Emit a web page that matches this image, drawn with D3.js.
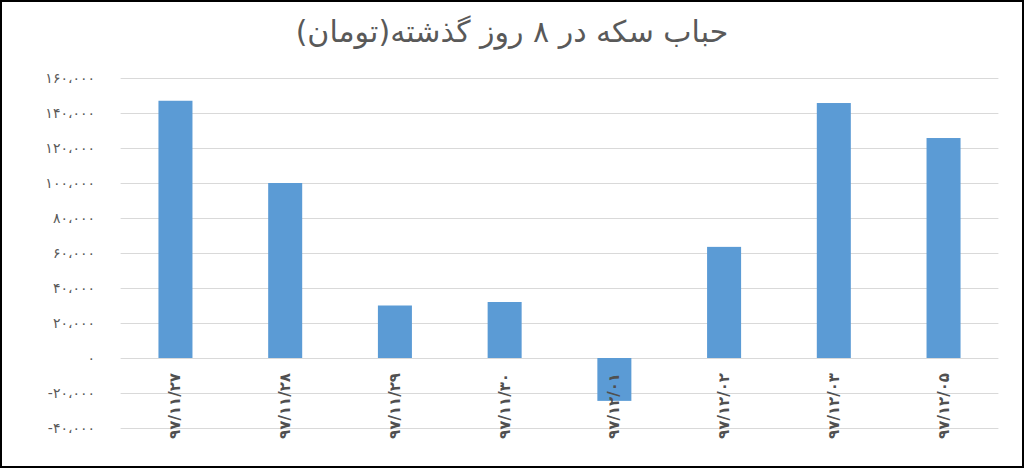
<!DOCTYPE html>
<html><head><meta charset="utf-8">
<script src="https://cdn.jsdelivr.net/npm/d3@7/dist/d3.min.js"></script>
<style>
html,body{margin:0;padding:0;background:#fff;}
svg{display:block;}
</style></head>
<body><svg id="c" width="1024" height="468"></svg>
<script>
const categories = ["۹۷/۱۱/۲۷","۹۷/۱۱/۲۸","۹۷/۱۱/۲۹","۹۷/۱۱/۳۰","۹۷/۱۲/۰۱","۹۷/۱۲/۰۲","۹۷/۱۲/۰۳","۹۷/۱۲/۰۵"];
const values = [1470000, 1000000, 300000, 320000, -245000, 635000, 1457000, 1257000];
const tickValues = [1600000,1400000,1200000,1000000,800000,600000,400000,200000,0,-200000,-400000];
const tickLabels = ["۱۶۰،۰۰۰","۱۴۰،۰۰۰","۱۲۰،۰۰۰","۱۰۰،۰۰۰","۸۰،۰۰۰","۶۰،۰۰۰","۴۰،۰۰۰","۲۰،۰۰۰","۰","-۲۰،۰۰۰","-۴۰،۰۰۰"];
const title = "حباب سکه در ۸ روز گذشته(تومان)";

const svg = d3.select("#c");
const W = 1024, H = 468;
const pLeft = 120.6, pRight = 998.4, pTop = 78, pBottom = 428;

svg.append("rect").attr("x",1).attr("y",1).attr("width",W-2).attr("height",H-2)
  .attr("fill","#fff").attr("stroke","#000").attr("stroke-width",2);

const x = d3.scaleBand().domain(categories).range([pLeft,pRight]).paddingInner(0.69).paddingOuter(0.345);
const y = d3.scaleLinear().domain([-400000,1600000]).range([pBottom,pTop]);

// gridlines
svg.append("g").selectAll("line").data(tickValues).join("line")
  .attr("x1",pLeft).attr("x2",pRight)
  .attr("y1",d=>Math.round(y(d))+0.5).attr("y2",d=>Math.round(y(d))+0.5)
  .attr("stroke","#d9d9d9").attr("stroke-width",1);

// y axis labels
const yAxis = d3.axisLeft(y).tickValues(tickValues).tickSize(0).tickPadding(0)
  .tickFormat((d,i)=>tickLabels[i]);
const ga = svg.append("g").attr("transform","translate(95,0)").call(yAxis);
ga.select(".domain").remove();
ga.selectAll("text").attr("fill","#595959").attr("font-size","14px")
  .attr("letter-spacing","3px")
  .attr("font-family","DejaVu Sans, sans-serif").attr("direction","ltr").attr("text-anchor","end");

// bars
svg.append("g").selectAll("rect").data(values).join("rect")
  .attr("x",(d,i)=>x(categories[i]))
  .attr("width",x.bandwidth())
  .attr("y",d=>y(Math.max(0,d)))
  .attr("height",d=>Math.abs(y(d)-y(0)))
  .attr("fill","#5b9bd5");

// x labels
svg.append("g").selectAll("text").data(categories).join("text")
  .attr("transform",d=>`translate(${x(d)+x.bandwidth()/2+5},373) rotate(-90)`)
  .attr("text-anchor","end")
  .attr("direction","ltr")
  .attr("font-family","DejaVu Sans, sans-serif")
  .attr("font-size","15px").attr("font-weight","bold")
  .attr("letter-spacing","3.8px")
  .attr("fill","#505050")
  .text(d=>d);

// title
svg.append("text").attr("x",512).attr("y",42).attr("text-anchor","middle")
  .attr("direction","rtl")
  .attr("font-family","DejaVu Sans, sans-serif").attr("font-size","30px")
  .attr("fill","#595959").text(title);
</script></body></html>
